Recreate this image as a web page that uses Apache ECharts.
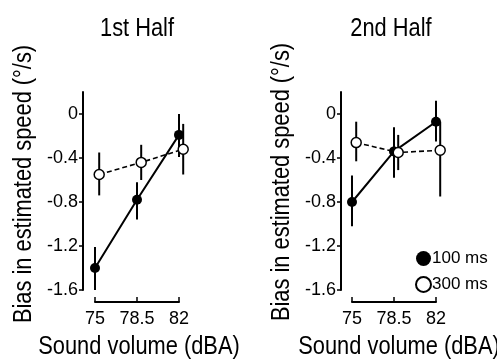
<!DOCTYPE html>
<html>
<head>
<meta charset="utf-8">
<script src="https://cdn.jsdelivr.net/npm/echarts@6/dist/echarts.min.js"></script>
<style>html,body{margin:0;padding:0;background:#fff}#c{width:497px;height:360px}</style>
</head>
<body>
<div id="c"></div>
<script>
// ---- data ----
const panelTitles = ['1st Half', '2nd Half'];
const xTicks = [75, 78.5, 82];
const seriesNames = ['100 ms', '300 ms'];
// x positions (300 ms points are drawn slightly offset to the right)
const x100 = [75, 78.5, 82];
const x300 = [75.35, 78.85, 82.35];
// 1st half
const h1_100 = [-1.40, -0.78, -0.19];
const h1_100_hi = [-1.21, -0.62, 0.00];
const h1_100_lo = [-1.60, -0.96, -0.39];
const h1_300 = [-0.55, -0.44, -0.32];
const h1_300_hi = [-0.35, -0.28, -0.09];
const h1_300_lo = [-0.74, -0.60, -0.55];
// 2nd half
const h2_100 = [-0.80, -0.34, -0.07];
const h2_100_hi = [-0.56, -0.12, 0.12];
const h2_100_lo = [-1.02, -0.58, -0.25];
const h2_300 = [-0.26, -0.35, -0.33];
const h2_300_hi = [-0.07, -0.19, -0.07];
const h2_300_lo = [-0.43, -0.51, -0.75];

const FONT = 'Liberation Sans';
const pairs = (xs, ys) => xs.map((x, i) => [x, ys[i]]);
const bars = (xs, lo, hi) => xs.map((x, i) => [x, lo[i], hi[i]]);

function errSeries(idx, data) {
  return {
    type: 'custom', xAxisIndex: idx, yAxisIndex: idx, z: 1, silent: true, clip: false,
    data: data,
    renderItem: function (params, api) {
      const a = api.coord([api.value(0), api.value(1)]);
      const b = api.coord([api.value(0), api.value(2)]);
      return { type: 'line', shape: { x1: a[0], y1: a[1], x2: b[0], y2: b[1] },
               style: { stroke: '#000', lineWidth: 2 } };
    }
  };
}
function lineSeries(idx, name, data, dashed) {
  return {
    type: 'line', name: name, xAxisIndex: idx, yAxisIndex: idx, z: 3, clip: false,
    data: data, symbol: 'circle', symbolSize: 10,
    lineStyle: { color: '#000', width: dashed ? 1.6 : 2, type: dashed ? [5, 3] : 'solid' },
    itemStyle: dashed ? { color: '#fff', borderColor: '#000', borderWidth: 1.5 }
                      : { color: '#000', borderColor: '#000', borderWidth: 0 },
    emphasis: { disabled: true }, animation: false
  };
}
const grids = [
  { left: 95, top: 92, width: 84, height: 198 },
  { left: 352, top: 92, width: 84, height: 198 }
];
const yOff = [12, 11];
const xAxes = grids.map((g, i) => ({
  type: 'value', gridIndex: i, min: 75, max: 82, interval: 3.5, offset: 12,
  axisLine: { show: true, onZero: false, lineStyle: { color: '#000', width: 2 } },
  axisTick: { show: true, inside: true, length: 5, lineStyle: { color: '#000', width: 1.5 } },
  splitLine: { show: false },
  axisLabel: { color: '#000', fontSize: 18, fontFamily: FONT, margin: 8,
    showMinLabel: true, showMaxLabel: true,
    formatter: v => String(xTicks.find(t => Math.abs(t - v) < 1e-6) ?? v) }
}));
const yAxes = grids.map((g, i) => ({
  type: 'value', gridIndex: i, min: -1.6, max: 0.2, interval: 0.4, offset: yOff[i],
  axisLine: { show: true, onZero: false, lineStyle: { color: '#000', width: 2 } },
  axisTick: { show: true, length: 4, lineStyle: { color: '#000', width: 1.5 } },
  splitLine: { show: false },
  axisLabel: { color: '#000', fontSize: 18, fontFamily: FONT, margin: 5,
    showMaxLabel: false,
    formatter: v => Math.abs(v) < 1e-9 ? '0' : (Math.round(v * 10) / 10).toFixed(1) }
}));
const txt = (text, x, y, size, rot) => ({
  type: 'text', x: x, y: y, rotation: rot || 0, scaleX: 0.84,
  style: { text: text, fill: '#000', font: size + 'px "' + FONT + '"', align: 'center', verticalAlign: 'middle' }
});

const chart = echarts.init(document.getElementById('c'), null, { renderer: 'canvas' });
chart.setOption({
  animation: false,
  backgroundColor: '#fff',
  grid: grids,
  xAxis: xAxes,
  yAxis: yAxes,
  legend: {
    data: seriesNames, orient: 'vertical', left: 410, top: 245, itemGap: 9,
    icon: 'circle', itemWidth: 15, itemHeight: 15, selectedMode: false,
    textStyle: { color: '#000', fontSize: 17, fontFamily: FONT, padding: [0, 0, 0, -4] }
  },
  graphic: [
    txt(panelTitles[0], 137, 29, 26),
    txt(panelTitles[1], 391, 29, 26),
    txt('Bias in estimated speed (°/s)', 24, 184, 26, Math.PI / 2),
    txt('Bias in estimated speed (°/s)', 282, 182, 26, Math.PI / 2),
    txt('Sound volume (dBA)', 139, 347, 26),
    txt('Sound volume (dBA)', 399, 347, 26)
  ],
  series: [
    errSeries(0, bars(x100, h1_100_lo, h1_100_hi)),
    errSeries(0, bars(x300, h1_300_lo, h1_300_hi)),
    lineSeries(0, seriesNames[0], pairs(x100, h1_100), false),
    lineSeries(0, seriesNames[1], pairs(x300, h1_300), true),
    errSeries(1, bars(x100, h2_100_lo, h2_100_hi)),
    errSeries(1, bars(x300, h2_300_lo, h2_300_hi)),
    lineSeries(1, seriesNames[0], pairs(x100, h2_100), false),
    lineSeries(1, seriesNames[1], pairs(x300, h2_300), true)
  ]
});
</script>
</body>
</html>
